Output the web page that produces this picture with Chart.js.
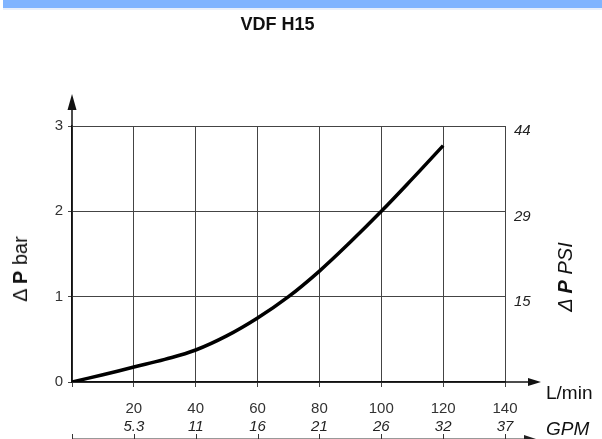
<!DOCTYPE html>
<html><head><meta charset="utf-8">
<script src="https://cdn.jsdelivr.net/npm/chart.js@4/dist/chart.umd.min.js"></script>
<style>
html,body{margin:0;padding:0;background:#fff;}
#wrap{position:relative;width:602px;height:439px;overflow:hidden;font-family:"Liberation Sans",Arial,sans-serif;}
#banner{position:absolute;left:3px;top:0;width:599px;height:8px;background:#80b4ff;border-bottom:2px solid #e8effb;}
canvas{position:absolute;left:0;top:0;}
.lbl{position:absolute;white-space:nowrap;color:#111;line-height:1;}
.rot{transform:translate(-50%,-50%) rotate(-90deg);}
</style></head><body>
<div id="wrap">
<canvas id="c" width="602" height="439"></canvas>
<div id="banner"></div>
<div class="lbl rot" id="ytitle" style="left:20px;top:269px;font-size:20px;">&Delta; <b>P</b> bar</div>
<div class="lbl rot" id="y2title" style="left:565px;top:277px;font-size:20px;font-style:italic;">&Delta; <b>P</b> PSI</div>
<div class="lbl" id="xunit" style="left:546px;top:383px;font-size:19px;">L/min</div>
<div class="lbl" id="x2unit" style="left:546px;top:419px;font-size:19px;font-style:italic;">GPM</div>
</div>
<script>
// ---- data ----
const flowLpm = [0, 10, 20, 30, 40, 50, 60, 70, 80, 90, 100, 110, 120];
const dpBar   = [0, 0.085, 0.175, 0.265, 0.375, 0.54, 0.75, 1.0, 1.30, 1.64, 2.0, 2.38, 2.77];
const xTicksLpm = [0, 20, 40, 60, 80, 100, 120, 140];
const xTicksGpm = ['', '5.3', '11', '16', '21', '26', '32', '37'];
const yTicksBar = [0, 1, 2, 3];
const yTicksPsiVals = [1, 2, 3];
const yTicksPsi = ['15', '29', '44'];
const psiLabelShift = 0.06;

Chart.defaults.font.family = '"Liberation Sans", Arial, sans-serif';
Chart.defaults.color = '#333';

const arrows = {
  id: 'arrows',
  afterDraw(chart) {
    const ctx = chart.ctx, a = chart.chartArea;
    const x0 = chart.scales.x.getPixelForValue(0);
    const y0 = chart.scales.y.getPixelForValue(0);
    ctx.save();
    ctx.strokeStyle = '#111'; ctx.fillStyle = '#111'; ctx.lineWidth = 1.5;
    // y axis extension
    ctx.beginPath(); ctx.moveTo(x0, a.top); ctx.lineTo(x0, 104); ctx.stroke();
    ctx.beginPath(); ctx.moveTo(x0, 94); ctx.lineTo(x0 - 4.5, 110); ctx.lineTo(x0 + 4.5, 110); ctx.closePath(); ctx.fill();
    // x axis extension
    ctx.beginPath(); ctx.moveTo(a.right, y0); ctx.lineTo(532, y0); ctx.stroke();
    ctx.beginPath(); ctx.moveTo(541, y0); ctx.lineTo(528, y0 - 4); ctx.lineTo(528, y0 + 4); ctx.closePath(); ctx.fill();
    // GPM axis line at the bottom
    const gy = 438;
    ctx.lineWidth = 1; ctx.strokeStyle = '#999';
    ctx.beginPath(); ctx.moveTo(x0, gy + 0.5); ctx.lineTo(526, gy + 0.5); ctx.stroke();
    ctx.strokeStyle = '#333';
    xTicksLpm.forEach(v => {
      const px = Math.round(chart.scales.x2.getPixelForValue(v)) + 0.5;
      ctx.beginPath(); ctx.moveTo(px, gy - 4); ctx.lineTo(px, gy + 1); ctx.stroke();
    });
    ctx.fillStyle = '#222';
    ctx.beginPath(); ctx.moveTo(536, gy + 1); ctx.lineTo(524, gy - 3); ctx.lineTo(524, gy + 5); ctx.closePath(); ctx.fill();
    ctx.restore();
  }
};

new Chart(document.getElementById('c'), {
  type: 'line',
  data: {
    datasets: [{
      data: flowLpm.map((x, i) => ({ x: x, y: dpBar[i] })),
      borderColor: '#000',
      borderWidth: 3.5,
      pointRadius: 0,
      tension: 0.4,
      fill: false
    }]
  },
  options: {
    responsive: false,
    animation: false,
    layout: { padding: { left: 10, right: 57, top: 0, bottom: 4 } },
    plugins: {
      legend: { display: false },
      tooltip: { enabled: false },
      title: {
        display: true, text: 'VDF H15', color: '#111',
        font: { size: 18, weight: 'bold' },
        padding: { top: 14, bottom: 90.4 }
      }
    },
    scales: {
      x: {
        type: 'linear', position: 'bottom', min: 0, max: 140,
        afterBuildTicks: s => { s.ticks = xTicksLpm.map(v => ({ value: v })); },
        afterFit: s => { s.height = 35; },
        ticks: { callback: v => (v === 0 ? '' : String(v)), font: { size: 15 }, color: '#333', padding: 13, maxRotation: 0 },
        grid: { color: '#444', lineWidth: 1, tickLength: 5, drawTicks: true },
        border: { color: '#111', width: 1.5 }
      },
      x2: {
        type: 'linear', position: 'bottom', min: 0, max: 140,
        afterBuildTicks: s => { s.ticks = xTicksLpm.map(v => ({ value: v })); },
        afterFit: s => { s.height = 18; },
        ticks: { callback: (v, i) => xTicksGpm[i], font: { size: 15, style: 'italic' }, color: '#222', padding: 1, maxRotation: 0 },
        grid: { display: false, drawTicks: false },
        border: { display: false }
      },
      y: {
        position: 'left', min: 0, max: 3,
        afterBuildTicks: s => { s.ticks = yTicksBar.map(v => ({ value: v })); },
        afterFit: s => { s.width = 62; },
        ticks: { font: { size: 15 }, color: '#333', padding: 5 },
        grid: { color: '#444', lineWidth: 1, tickLength: 4 },
        border: { color: '#111', width: 1.5 }
      },
      y2: {
        position: 'right', min: psiLabelShift, max: 3 + psiLabelShift,
        afterBuildTicks: s => { s.ticks = yTicksPsiVals.map(v => ({ value: v })); },
        afterFit: s => { s.width = 40; },
        ticks: { callback: (v, i) => yTicksPsi[i], font: { size: 15, style: 'italic' }, color: '#222', padding: 9 },
        grid: { display: false, drawTicks: false },
        border: { display: false }
      }
    }
  },
  plugins: [arrows]
});
</script>
</body></html>
